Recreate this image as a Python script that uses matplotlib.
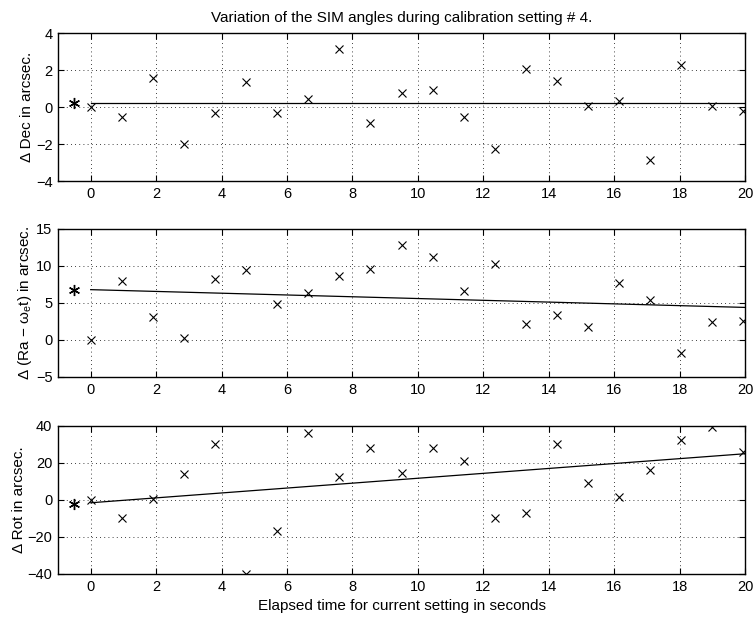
import numpy as np
import matplotlib
matplotlib.use('Agg')
import matplotlib.pyplot as plt

plt.rcParams['font.family'] = ['Liberation Sans', 'DejaVu Sans']
plt.rcParams['font.size'] = 10.5

# sample times (s)
t = [0, 0.95, 1.9, 2.85, 3.8, 4.75, 5.7, 6.65, 7.6, 8.55, 9.5,
     10.45, 11.4, 12.35, 13.3, 14.25, 15.2, 16.15, 17.1, 18.05, 19.0, 19.95]
t_star = -0.5

dec = [0, -0.55, 1.55, -2.0, -0.35, 1.35, -0.35, 0.45, 3.15, -0.85, 0.75,
       0.9, -0.55, -2.25, 2.05, 1.4, 0.05, 0.35, -2.85, 2.25, 0.05, -0.2]
dec_star = 0.2
dec_fit = [0.2, 0.2]

ra = [0, 8.0, 3.1, 0.3, 8.2, 9.4, 4.9, 6.4, 8.7, 9.6, 12.8,
      11.2, 6.6, 10.3, 2.1, 3.4, 1.7, 7.7, 5.4, -1.7, 2.4, 2.6]
ra_star = 6.8
ra_fit = [6.8, 4.4]

rot = [0, -10, 0.5, 14, 30, -40, -17, 36, 12.5, 28, 14.5,
       28, 21, -10, -7, 30, 9, 1.5, 16, 32.5, 39.5, 26]
rot_star = -2
rot_fit = [-1.5, 25]

fit_x = [0, 20]

panels = [
    (dec, dec_star, dec_fit, (-4, 4), [-4, -2, 0, 2, 4], 'Δ Dec in arcsec.'),
    (ra, ra_star, ra_fit, (-5, 15), [-5, 0, 5, 10, 15], 'Δ (Ra − ω$_\\mathregular{e}$t) in arcsec.'),
    (rot, rot_star, rot_fit, (-40, 40), [-40, -20, 0, 20, 40], 'Δ Rot in arcsec.'),
]

fig = plt.figure(figsize=(7.55, 6.18), dpi=100)
bottoms = [0.7071, 0.3900, 0.0712]

for (vals, star, fit, ylim, yt, ylab), b in zip(panels, bottoms):
    ax = fig.add_axes([0.0768, b, 0.910, 0.2395])
    ax.plot(t, vals, 'x', color='black', markersize=5.5, markeredgewidth=0.8)
    ax.plot([t_star], [star], marker=(6, 2, 0), color='black', markersize=8,
            markeredgewidth=1.0, linestyle='none')
    ax.plot(fit_x, fit, '-', color='black', linewidth=0.9)
    ax.set_xlim(-1, 20)
    ax.set_ylim(*ylim)
    ax.set_yticks(yt)
    ax.set_xticks(range(0, 21, 2))
    ax.set_ylabel(ylab, fontsize=11, labelpad=1)
    ax.grid(True, linestyle=(0, (1, 4)), color='black', linewidth=0.6)
    ax.tick_params(direction='in', top=True, right=True, length=4, pad=4)
    for s in ax.spines.values():
        s.set_linewidth(1.0)
    if b == bottoms[0]:
        ax.set_title('Variation of the SIM angles during calibration setting # 4.',
                     fontsize=11, pad=8)
    if b == bottoms[-1]:
        ax.set_xlabel('Elapsed time for current setting in seconds', fontsize=11, labelpad=4)

fig.savefig('out.png', dpi=100)
